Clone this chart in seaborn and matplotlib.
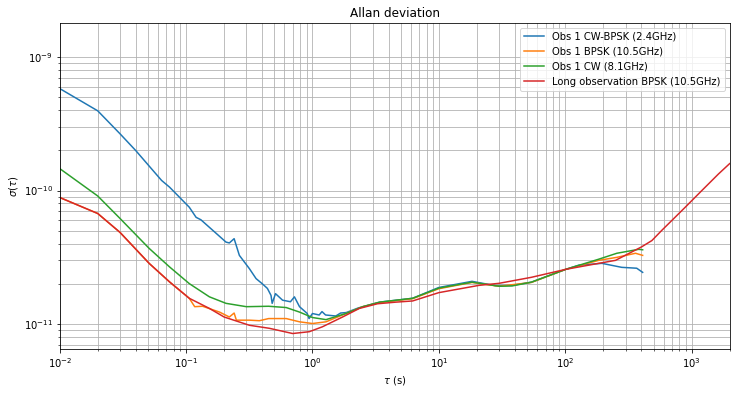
import numpy as np
import pandas as pd
import matplotlib
matplotlib.use("Agg")
import matplotlib.pyplot as plt
import seaborn as sns

# Allan deviation values
tau_cwbpsk = [0.01, 0.02, 0.03, 0.04, 0.064, 0.074, 0.106, 0.12, 0.131, 0.207, 0.22, 0.24,
              0.264, 0.317, 0.358, 0.402, 0.44, 0.47, 0.48, 0.51, 0.58, 0.67, 0.72, 0.79,
              0.91, 0.94, 1.0, 1.13, 1.19, 1.27, 1.53, 1.67, 1.85, 2.3, 3.4, 6.2, 10, 18.3,
              28, 38, 54, 101, 128, 195, 280, 368, 410]
adev_cwbpsk = [5.8e-10, 3.95e-10, 2.66e-10, 1.99e-10, 1.19e-10, 1.06e-10, 7.5e-11, 6.3e-11,
               6.04e-11, 4.11e-11, 4.05e-11, 4.36e-11, 3.27e-11, 2.6e-11, 2.19e-11, 2.0e-11,
               1.85e-11, 1.64e-11, 1.43e-11, 1.69e-11, 1.51e-11, 1.47e-11, 1.6e-11, 1.35e-11,
               1.2e-11, 1.1e-11, 1.2e-11, 1.17e-11, 1.24e-11, 1.17e-11, 1.15e-11, 1.21e-11,
               1.22e-11, 1.32e-11, 1.46e-11, 1.56e-11, 1.88e-11, 2.09e-11, 1.94e-11, 1.95e-11,
               2.06e-11, 2.57e-11, 2.76e-11, 2.85e-11, 2.66e-11, 2.62e-11, 2.44e-11]

tau_bpsk = [0.01, 0.02, 0.03, 0.051, 0.074, 0.106, 0.117, 0.135, 0.184, 0.22, 0.24, 0.25,
            0.317, 0.38, 0.45, 0.62, 0.79, 1.0, 1.28, 1.84, 2.5, 3.4, 6.2, 10, 18.3, 30, 54,
            101, 184, 256, 360, 410]
adev_bpsk = [8.87e-11, 6.73e-11, 4.86e-11, 2.85e-11, 2.07e-11, 1.56e-11, 1.35e-11, 1.36e-11,
             1.23e-11, 1.13e-11, 1.21e-11, 1.07e-11, 1.07e-11, 1.06e-11, 1.1e-11, 1.1e-11,
             1.04e-11, 1.01e-11, 1.04e-11, 1.2e-11, 1.35e-11, 1.45e-11, 1.55e-11, 1.84e-11,
             2.05e-11, 1.92e-11, 2.05e-11, 2.57e-11, 3.0e-11, 3.16e-11, 3.39e-11, 3.27e-11]

tau_cw = [0.01, 0.02, 0.03, 0.051, 0.074, 0.106, 0.153, 0.207, 0.3, 0.45, 0.62, 0.79, 1.0,
          1.28, 1.84, 2.5, 3.4, 6.2, 10, 18.3, 30, 38, 54, 101, 184, 256, 382, 410]
adev_cw = [1.46e-10, 9.1e-11, 6.18e-11, 3.69e-11, 2.68e-11, 2.01e-11, 1.6e-11, 1.43e-11,
           1.35e-11, 1.36e-11, 1.33e-11, 1.23e-11, 1.12e-11, 1.08e-11, 1.2e-11, 1.35e-11,
           1.46e-11, 1.56e-11, 1.86e-11, 2.06e-11, 1.92e-11, 1.93e-11, 2.06e-11, 2.57e-11,
           3.06e-11, 3.39e-11, 3.63e-11, 3.6e-11]

tau_long = [0.01, 0.02, 0.03, 0.051, 0.074, 0.106, 0.153, 0.2, 0.317, 0.456, 0.697, 0.944,
            1.2, 1.73, 2.35, 3.27, 4.57, 6.2, 10, 20.8, 30, 54, 101, 184, 250, 401, 485,
            582, 698, 891, 1206, 1632, 2000]
adev_long = [8.87e-11, 6.73e-11, 4.86e-11, 2.85e-11, 2.07e-11, 1.56e-11, 1.31e-11, 1.13e-11,
             9.8e-12, 9.3e-12, 8.5e-12, 8.77e-12, 9.55e-12, 1.13e-11, 1.31e-11, 1.42e-11,
             1.46e-11, 1.49e-11, 1.72e-11, 1.95e-11, 2.02e-11, 2.24e-11, 2.57e-11, 2.85e-11,
             3.0e-11, 3.78e-11, 4.22e-11, 5.04e-11, 5.97e-11, 7.5e-11, 1.0e-10, 1.33e-10,
             1.59e-10]

series = [
    ("Obs 1 CW-BPSK (2.4GHz)", tau_cwbpsk, adev_cwbpsk),
    ("Obs 1 BPSK (10.5GHz)", tau_bpsk, adev_bpsk),
    ("Obs 1 CW (8.1GHz)", tau_cw, adev_cw),
    ("Long observation BPSK (10.5GHz)", tau_long, adev_long),
]

df = pd.concat([pd.DataFrame({"tau": t, "adev": a, "run": name}) for name, t, a in series],
               ignore_index=True)

plt.rcParams["font.size"] = 10

fig, ax = plt.subplots(figsize=(737 / 72, 394 / 72), dpi=72)
fig.subplots_adjust(left=0.081, right=0.99, top=0.942, bottom=0.114)

sns.lineplot(data=df, x="tau", y="adev", hue="run", palette="tab10",
             estimator=None, sort=True, linewidth=1.5, ax=ax)

ax.set_xscale("log")
ax.set_yscale("log")
ax.set_xlim(1e-2, 2000)
ax.set_ylim(6.5e-12, 1.8e-9)
ax.grid(True, which="both", color="#b0b0b0", linewidth=0.8)
ax.set_title("Allan deviation")
ax.set_xlabel(r"$\tau$ (s)")
ax.set_ylabel(r"$\sigma(\tau)$")
ax.legend(loc="upper right")

fig.savefig("out.png", dpi=72)
